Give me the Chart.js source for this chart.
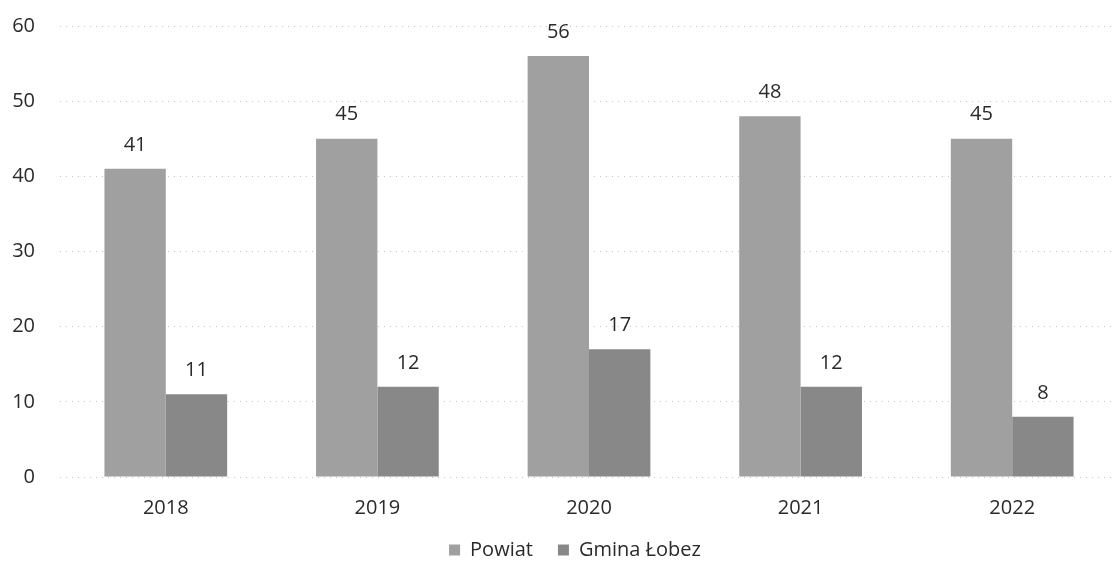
<!DOCTYPE html>
<html>
<head>
<meta charset="utf-8">
<script src="https://cdn.jsdelivr.net/npm/chart.js@4.4.0/dist/chart.umd.min.js"></script>
<style>
html,body{margin:0;padding:0;background:#fff;overflow:hidden;}
#wrap{width:1118px;height:600px;position:absolute;left:0;top:-11px;}
</style>
</head>
<body>
<div id="wrap"><canvas id="c"></canvas></div>
<script>
const categories = ["2018", "2019", "2020", "2021", "2022"];
const powiat = [41, 45, 56, 48, 45];
const gmina = [11, 12, 17, 12, 8];
const seriesNames = ["Powiat", "Gmina Łobez"];
const yTicks = [0, 10, 20, 30, 40, 50, 60];

const FONT = '"Open Sans", sans-serif';

const labelPlugin = {
  id: 'barLabels',
  afterLayout(chart) {
    const lg = chart.legend;
    if (lg) {
      lg.left += 16; lg.right += 16;
      lg.top -= 7; lg.bottom -= 7;
    }
  },
  afterDatasetsDraw(chart) {
    const ctx = chart.ctx;
    ctx.save();
    ctx.font = '20px ' + FONT;
    ctx.fillStyle = '#2a2a2a';
    ctx.textAlign = 'center';
    ctx.textBaseline = 'middle';
    chart.data.datasets.forEach((ds, i) => {
      chart.getDatasetMeta(i).data.forEach((bar, j) => {
        ctx.fillText(String(ds.data[j]), bar.x, bar.y - 24);
      });
    });
    ctx.restore();
  }
};

new Chart(document.getElementById('c'), {
  type: 'bar',
  data: {
    labels: categories,
    datasets: [
      { label: seriesNames[0], data: powiat, backgroundColor: '#a0a0a0' },
      { label: seriesNames[1], data: gmina, backgroundColor: '#888888' }
    ]
  },
  options: {
    responsive: true,
    maintainAspectRatio: false,
    animation: false,
    devicePixelRatio: 1,
    layout: { padding: { top: 8, left: 0, right: 0, bottom: 12 } },
    datasets: { bar: { categoryPercentage: 0.58, barPercentage: 1.0 } },
    plugins: {
      legend: {
        position: 'bottom',
        maxHeight: 60,
        labels: {
          boxWidth: 11, boxHeight: 11, padding: 25,
          color: '#2a2a2a',
          font: { family: FONT, size: 20 }
        }
      },
      tooltip: { enabled: false }
    },
    scales: {
      x: {
        grid: { display: false },
        border: { display: false },
        afterFit(scale) { scale.height = 45; },
        ticks: { color: '#2a2a2a', padding: 11, font: { family: FONT, size: 20 } }
      },
      y: {
        min: 0, max: 60,
        afterBuildTicks(scale) { scale.ticks = yTicks.map(v => ({ value: v })); },
        afterFit(scale) { scale.width = 60; },
        grid: { color: '#c4c4c4', lineWidth: 1, drawTicks: false },
        border: { display: false, dash: [1, 5] },
        ticks: { color: '#2a2a2a', padding: 25, font: { family: FONT, size: 20 } }
      }
    }
  },
  plugins: [labelPlugin]
});
</script>
</body>
</html>
